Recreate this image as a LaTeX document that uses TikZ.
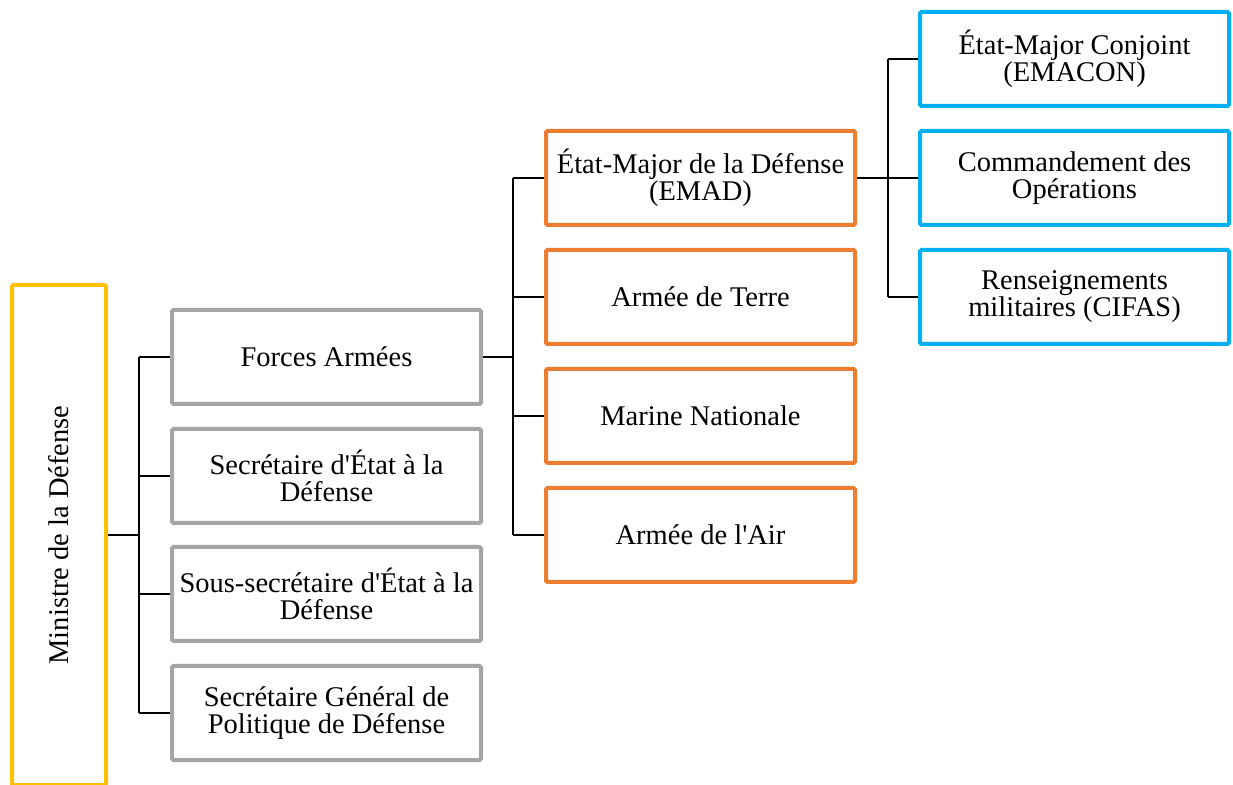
\documentclass[tikz,border=0pt]{standalone}
\usepackage{fontspec}
\setmainfont{Liberation Serif}
\usetikzlibrary{positioning}
\definecolor{mingold}{HTML}{FFC000}
\definecolor{boxgrey}{HTML}{A5A5A5}
\definecolor{boxorange}{HTML}{ED7D31}
\definecolor{boxblue}{HTML}{00B0F0}
\newcommand{\apo}{\textquotesingle}

\begin{document}
\begin{tikzpicture}[x=1pt, y=1pt,
    box/.style={draw, line width=4pt, rounded corners=1.5pt, fill=white,
        minimum width=309pt, minimum height=94pt, align=center, inner sep=2pt,
        font=\fontsize{28.5pt}{27pt}\selectfont},
    greybox/.style={box, draw=boxgrey},
    orangebox/.style={box, draw=boxorange},
    bluebox/.style={box, draw=boxblue},
    link/.style={line width=1.5pt},
    stub/.style={line width=2.2pt}]
    % Page frame
    \useasboundingbox[fill=white] (0,0) rectangle (1233,784);

    % Minister
    \node[draw=mingold, line width=4pt, rounded corners=1.5pt,
        minimum width=94pt, minimum height=500pt] (min) at (59,249) {};
    \node[rotate=90, font=\fontsize{28.5pt}{27pt}\selectfont] (mintext) at (min.center) {Ministre de la Défense};

    % Second level
    \node[greybox] (g1) at (326.5,427) {Forces Armées};
    \node[greybox] (g2) at (326.5,308) {Secrétaire d\apo État à la\\Défense};
    \node[greybox] (g3) at (326.5,190) {Sous-secrétaire d\apo État à la\\Défense};
    \node[greybox] (g4) at (326.5,71) {Secrétaire Général de\\Politique de Défense};

    % Forces
    \node[orangebox] (o1) at (700.5,606) {État-Major de la Défense\\(EMAD)};
    \node[orangebox] (o2) at (700.5,487) {Armée de Terre};
    \node[orangebox] (o3) at (700.5,368) {Marine Nationale};
    \node[orangebox] (o4) at (700.5,249) {Armée de l\apo Air};

    % Staff
    \node[bluebox] (b1) at (1074.5,725) {État-Major Conjoint\\(EMACON)};
    \node[bluebox] (b2) at (1074.5,606) {Commandement des\\Opérations};
    \node[bluebox] (b3) at (1074.5,487) {Renseignements\\militaires (CIFAS)};

    % Spines
    \coordinate (jA) at (139,249);
    \coordinate (jB) at (513,427);
    \coordinate (jC) at (888,606);

    % Connectors
    \draw[stub] (min.east) -- (jA);
    \draw[link] (jA |- g1.west) -- (jA |- g4.west);
    \foreach \n in {g1,g2,g3,g4} \draw[link] (jA |- \n.west) -- (\n.west);

    \draw[stub] (g1.east) -- (jB);
    \draw[link] (jB |- o1.west) -- (jB |- o4.west);
    \foreach \n in {o1,o2,o3,o4} \draw[link] (jB |- \n.west) -- (\n.west);

    \draw[stub] (o1.east) -- (jC);
    \draw[link] (jC |- b1.west) -- (jC |- b3.west);
    \foreach \n in {b1,b2,b3} \draw[link] (jC |- \n.west) -- (\n.west);
\end{tikzpicture}
\end{document}
